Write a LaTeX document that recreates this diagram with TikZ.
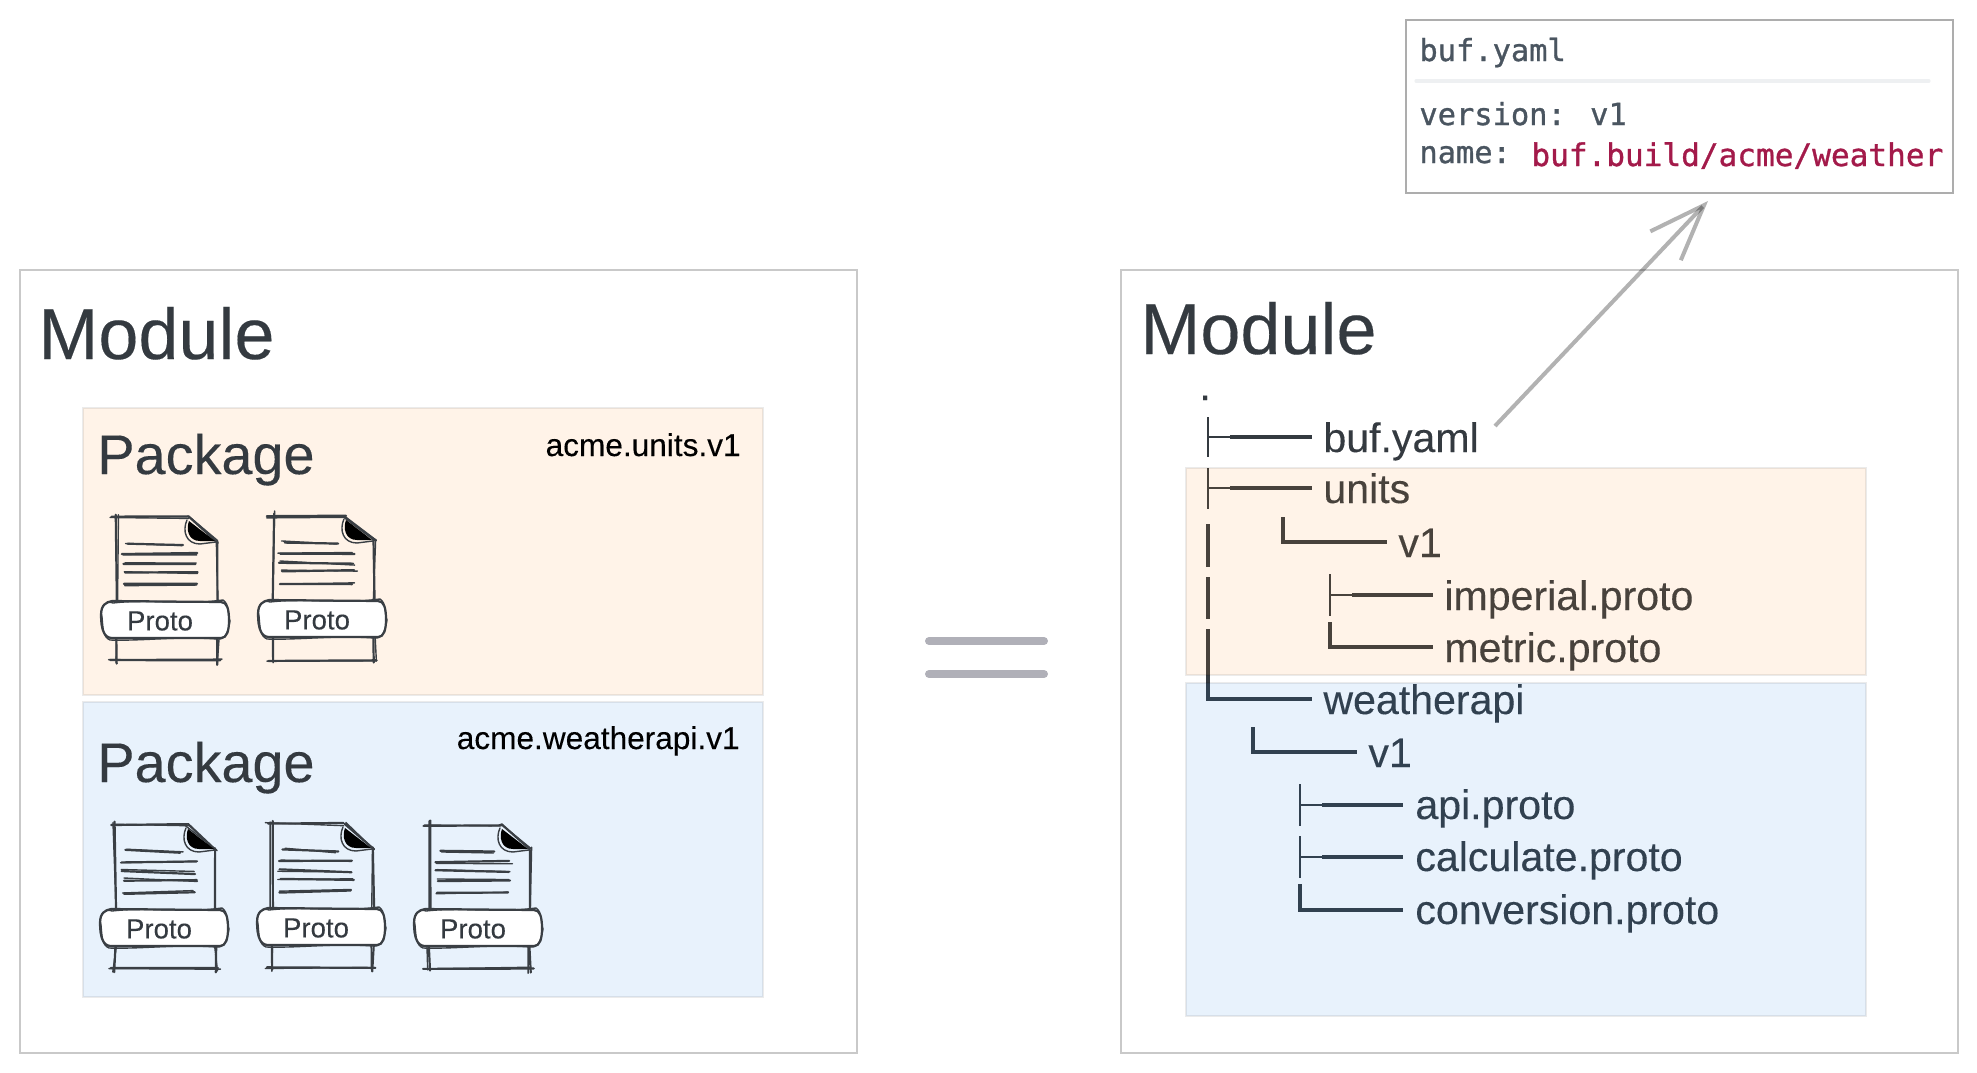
\documentclass[tikz,border=0pt]{standalone}
\usepackage{fontspec}
\setmainfont[FakeBold=0.2]{Liberation Sans}
\newfontfamily\codefont[FakeBold=1.0]{DejaVu Sans Mono}
\usetikzlibrary{arrows.meta}
\definecolor{ink}{HTML}{343A40}
\definecolor{skink}{HTML}{3A3F44}
\definecolor{codegrey}{HTML}{4A5560}
\definecolor{codered}{HTML}{A31A4A}
\tikzset{
  x=0.5pt,y=-0.5pt,
  modbox/.style={draw=black!21,line width=1pt},
  tx/.style={anchor=base west,inner sep=0pt,text=ink},
  modtx/.style={tx,font=\fontsize{36}{40}\selectfont},
  pkgtx/.style={tx,font=\fontsize{27.9}{32}\selectfont},
  treetx/.style={tx,font=\fontsize{20.55}{24}\selectfont},
  nametx/.style={anchor=base east,inner sep=0pt,text=black,font=\fontsize{15.8}{18}\selectfont},
  prototx/.style={anchor=center,inner sep=0pt,text=ink,font=\fontsize{13.8}{16}\selectfont},
  codetx/.style={anchor=base west,inner sep=0pt,text=codegrey,font=\codefont\fontsize{15.2}{18}\selectfont},
  valtx/.style={anchor=base west,inner sep=0pt,text=codered,font=\codefont\fontsize{15.55}{18}\selectfont},
  treeln/.style={draw=ink,line width=1pt},
  treelnb/.style={draw=ink,line width=1.7pt},
  sk/.style={draw=skink,line width=1.1pt,line cap=round,line join=round},
  skthin/.style={draw=skink,line width=0.7pt,line cap=round,line join=round},
  orangeveil/.style={fill={rgb,255:red,255;green,140;blue,30},fill opacity=.1,draw=black,draw opacity=.08,line width=1pt},
  blueveil/.style={fill={rgb,255:red,30;green,130;blue,230},fill opacity=.1,draw=black,draw opacity=.08,line width=1pt},
  eqbar/.style={draw={rgb,255:red,176;green,176;blue,184},line width=4pt,line cap=round},
  pointer/.style={draw=black,draw opacity=.3,line width=2pt,-{Straight Barb[length=28pt,width=21pt]}},
}
\newcommand\skl[4]{%
  \draw[sk] (#1+1.2*rand,#2+1.2*rand) -- (#3+1.2*rand,#4+1.2*rand);
  \draw[skthin] (#1+2.5*rand,#2+2*rand) -- (#3+2.5*rand,#4+2*rand);
}
\newcommand\protodoc[3]{%
  \begin{scope}[shift={(#1,#2)}]
    \skl{-5}{0}{72}{0}
    \skl{0}{-3}{0}{85}
    \skl{101}{24}{101}{85}
    \skl{72}{0}{101}{25}
    \skl{0}{121}{0}{146}
    \skl{101}{121}{101}{147}
    \skl{-5}{144}{104}{144}
    \skl{11}{26}{66}{27}
    \skl{7}{37}{81}{37}
    \skl{7}{46}{80}{48}
    \skl{8}{55}{82}{55}
    \skl{8}{68}{80}{67}
    \fill[black] (73,4) .. controls (70,12) and (72,24) .. (84,24) -- (99,24) -- cycle;
    \draw[skthin] (71,3) .. controls (66,14) and (70,27) .. (84,27) -- (100,25);
    \fill[white] (-15,98) .. controls (-15,88) and (-10,85) .. (-4,85) -- (105,85) .. controls (111,85) and (113,92) .. (113,103)
       .. controls (113,114) and (111,121) .. (105,121) -- (-4,121) .. controls (-12,121) and (-15,112) .. (-15,98) -- cycle;
    \draw[sk] (-15,98) .. controls (-15,88) and (-10,85) .. (-4,84) -- (105,85) .. controls (111,85) and (113,92) .. (113,103)
       .. controls (113,114) and (111,121) .. (105,121) -- (-4,121) .. controls (-12,121) and (-15,112) .. (-15,98) -- cycle;
    \draw[skthin] (-14,100) .. controls (-17,90) and (-9,83) .. (-3,86) .. controls (30,82) and (70,88) .. (107,83) .. controls (114,88) and (111,96) .. (114,104)
       .. controls (112,116) and (109,123) .. (101,122) .. controls (60,119) and (30,124) .. (-6,123) .. controls (-13,120) and (-13,112) .. (-14,100) -- cycle;
    \node[prototx] (#3) at (44,104) {Proto};
  \end{scope}%
}
\begin{document}
\begin{tikzpicture}
\useasboundingbox (0,0) rectangle (1977,1072);
\pgfmathsetseed{11}
% left module
\draw[modbox] (20,270) rectangle (857,1053);
\node[modtx] (modLt) at (38,359) {Module};
\path[orangeveil] (83,408) rectangle (763,695);
\path[blueveil] (83,702) rectangle (763,997);
\node[pkgtx] (pkgA) at (97,474) {Package};
\node[pkgtx] (pkgB) at (97,782) {Package};
\node[nametx] (nameA) at (741,456) {acme.units.v1};
\node[nametx] (nameB) at (740,749) {acme.weatherapi.v1};
\protodoc{116}{517}{pa}
\protodoc{273}{516}{pb}
\protodoc{115}{825}{pc}
\protodoc{272}{824}{pd}
\protodoc{429}{825}{pe}
% equals
\coordinate (eqa) at (929,641);
\coordinate (eqb) at (1044,641);
\coordinate (eqc) at (929,674);
\coordinate (eqd) at (1044,674);
\draw[eqbar] (eqa) -- (eqb);
\draw[eqbar] (eqc) -- (eqd);
% right module
\draw[modbox] (1121,270) rectangle (1958,1053);
\node[modtx] (modRt) at (1140,354) {Module};
% tree
\node[treetx] (root) at (1199,400) {.};
\node[treetx] (tbuf) at (1323,452) {buf.yaml};
\node[treetx] (tunits) at (1323,503) {units};
\node[treetx] (tv1a) at (1398,557) {v1};
\node[treetx] (timp) at (1444,610) {imperial.proto};
\node[treetx] (tmet) at (1444,662) {metric.proto};
\node[treetx] (twea) at (1323,714) {weatherapi};
\node[treetx] (tv1b) at (1368,767) {v1};
\node[treetx] (tapi) at (1415,819) {api.proto};
\node[treetx] (tcal) at (1415,871) {calculate.proto};
\node[treetx] (tcon) at (1415,924) {conversion.proto};
\draw[treeln] (1208,417) -- (1208,457);
\draw[treeln] (1208,437) -- (1230,437);
\draw[treelnb] (1230,437) -- (1312,437);
\draw[treeln] (1208,468) -- (1208,509);
\draw[treeln] (1208,488) -- (1230,488);
\draw[treelnb] (1230,488) -- (1312,488);
\draw[treelnb] (1208,524) -- (1208,567);
\draw[treelnb] (1208,577) -- (1208,619);
\draw[treelnb] (1208,629) -- (1208,699) -- (1312,699);
\draw[treelnb] (1283,517) -- (1283,542) -- (1387,542);
\draw[treeln] (1330,574) -- (1330,616);
\draw[treeln] (1330,595) -- (1352,595);
\draw[treelnb] (1352,595) -- (1433,595);
\draw[treelnb] (1330,622) -- (1330,647) -- (1433,647);
\draw[treelnb] (1253,727) -- (1253,752) -- (1357,752);
\draw[treeln] (1300,784) -- (1300,826);
\draw[treeln] (1300,805) -- (1322,805);
\draw[treelnb] (1322,805) -- (1403,805);
\draw[treeln] (1300,836) -- (1300,878);
\draw[treeln] (1300,857) -- (1322,857);
\draw[treelnb] (1322,857) -- (1403,857);
\draw[treelnb] (1300,884) -- (1300,910) -- (1403,910);
\path[orangeveil] (1186,468) rectangle (1866,675);
\path[blueveil] (1186,683) rectangle (1866,1016);
% buf.yaml box
\draw[draw=black!32,line width=1pt] (1406,20) rectangle (1953,193);
\node[codetx] (chead) at (1419,61) {buf.yaml};
\coordinate (sepa) at (1416,81);
\coordinate (sepb) at (1929,81);
\draw[draw={rgb,255:red,238;green,240;blue,242},line width=1.6pt,line cap=round] (sepa) -- (sepb);
\node[codetx] (cver) at (1419,125) {version: v1};
\node[codetx] (cname) at (1419,163) {name:};
\node[valtx] (cval) at (1531,166) {buf.build/acme/weather};
% pointer
\coordinate (ptra) at (1495,426);
\coordinate (ptrb) at (1708,201);
\draw[pointer] (ptra) -- (ptrb);
\end{tikzpicture}
\end{document}
